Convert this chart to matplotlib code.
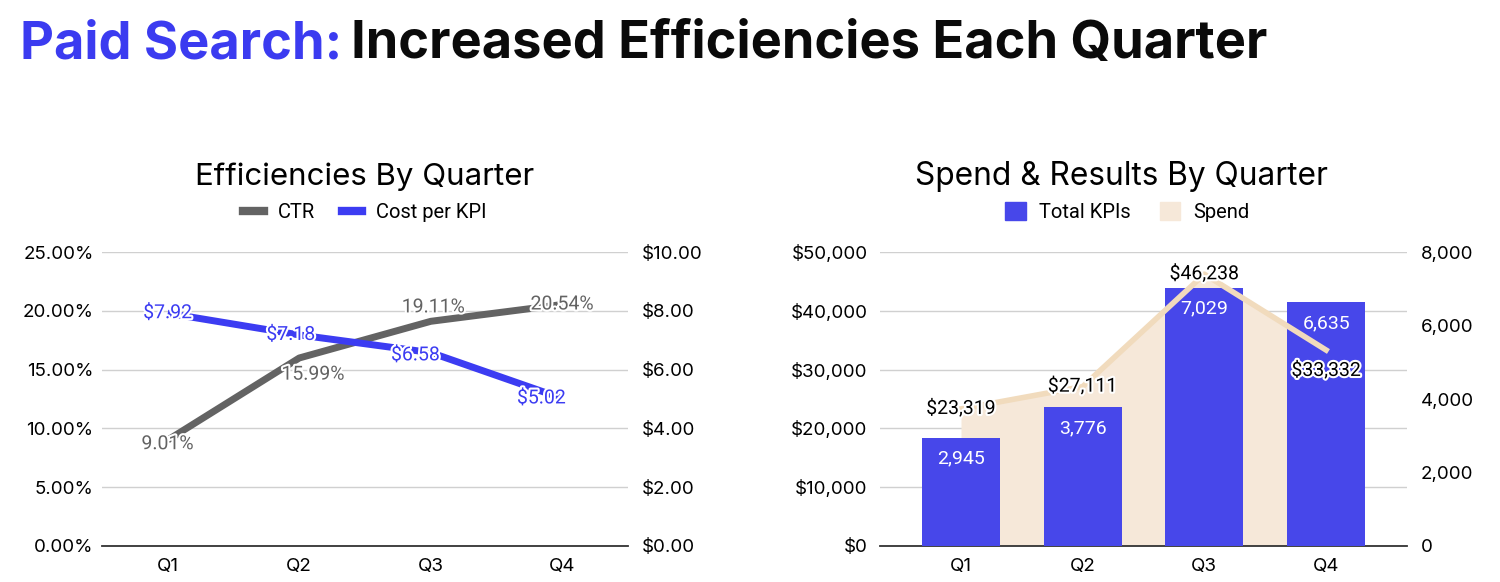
import numpy as np
from matplotlib import pyplot as plt
import matplotlib.patheffects as pe
from matplotlib.lines import Line2D
from matplotlib.patches import Patch

# data
quarters = ['Q1', 'Q2', 'Q3', 'Q4']
ctr = [9.01, 15.99, 19.11, 20.54]          # percent
cost_per_kpi = [7.92, 7.18, 6.58, 5.02]     # dollars
total_kpis = [2945, 3776, 7029, 6635]
spend = [23319, 27111, 46238, 33332]

pct_ticks = [0, 5, 10, 15, 20, 25]
cost_ticks = [0, 2, 4, 6, 8, 10]
spend_ticks = [0, 10000, 20000, 30000, 40000, 50000]
kpi_ticks = [0, 2000, 4000, 6000, 8000]

# colours / fonts
BLUE = '#4747ea'
LINE_BLUE = '#3c3cf2'
GRAY = '#636363'
BEIGE_FILL = '#f6e8d9'
BEIGE_LINE = '#f1dbbd'
GRID = '#d0d0d0'
TITLE_FONT = ['Inter', 'DejaVu Sans']
LABEL_FONT = ['Roboto', 'DejaVu Sans']

halo = [pe.withStroke(linewidth=3, foreground='white')]

fig = plt.figure(figsize=(15, 5.82), dpi=100)

# main title in two colours
t1 = fig.text(0.013, 0.9, 'Paid Search:', fontsize=37.7, fontweight='bold',
              color='#3b3bf0', family=TITLE_FONT, va='baseline')
fig.canvas.draw()
bb = t1.get_window_extent(fig.canvas.get_renderer())
x_end = bb.x1 / fig.bbox.width
fig.text(x_end + 0.006, 0.9, 'Increased Efficiencies Each Quarter', fontsize=37.7,
         fontweight='bold', color='#0a0a0a', family=TITLE_FONT, va='baseline')


def style_axes(ax):
    for s in ['top', 'left', 'right']:
        ax.spines[s].set_visible(False)
    ax.spines['bottom'].set_color('#333333')
    ax.spines['bottom'].set_linewidth(1.3)
    ax.tick_params(length=0, labelsize=13.5)
    for lab in ax.get_xticklabels() + ax.get_yticklabels():
        lab.set_family(TITLE_FONT)


# ---------- left chart ----------
x = np.arange(len(quarters))
ax = fig.add_axes([0.068, 0.0619, 0.3507, 0.505])
ax2 = ax.twinx()
ax.set_xlim(-0.5, 3.5)
ax.set_ylim(0, 25)
ax2.set_ylim(0, 10)
ax.set_yticks(pct_ticks)
ax.set_yticklabels(['%.2f%%' % v for v in pct_ticks])
ax2.set_yticks(cost_ticks)
ax2.set_yticklabels(['$%.2f' % v for v in cost_ticks])
ax.set_xticks(x)
ax.set_xticklabels(quarters)
ax.grid(axis='y', color=GRID, linewidth=1)
ax.set_axisbelow(True)
style_axes(ax)
style_axes(ax2)
ax2.spines['bottom'].set_visible(False)
ax.tick_params(axis='y', pad=6)
ax.tick_params(axis='x', pad=9)
ax2.tick_params(axis='y', pad=10)

ax2.plot(x, ctr, color=GRAY, linewidth=5, transform=ax.transData, solid_capstyle='butt')
ax2.plot(x, cost_per_kpi, color=LINE_BLUE, linewidth=5, solid_capstyle='butt')

ctr_off = [(0, -3), (10, -12), (2, 10), (0, 0)]
for i, v in enumerate(ctr):
    ax2.annotate('%.2f%%' % v, (x[i], v), xycoords=ax.transData,
                 xytext=ctr_off[i], textcoords='offset points', ha='center', va='center',
                 fontsize=14, color=GRAY, family=LABEL_FONT, path_effects=halo)
cost_off = [(0, 0), (-6, 0), (-11, -2), (-15, 0)]
for i, v in enumerate(cost_per_kpi):
    ax2.annotate('$%.2f' % v, (x[i], v), xytext=cost_off[i], textcoords='offset points',
                 ha='center', va='center', fontsize=14, color=LINE_BLUE,
                 family=LABEL_FONT, path_effects=halo)

ax.set_title('Efficiencies By Quarter', fontsize=22.5, family=TITLE_FONT, pad=48)
handles = [Line2D([0], [0], color=GRAY, lw=6), Line2D([0], [0], color=LINE_BLUE, lw=6)]
ax.legend(handles, ['CTR', 'Cost per KPI'], loc='lower center', bbox_to_anchor=(0.5, 1.04),
          ncol=2, frameon=False, prop={'family': LABEL_FONT, 'size': 14.5},
          handlelength=1.0, columnspacing=1.35, handletextpad=0.7)

# ---------- right chart ----------
bx = fig.add_axes([0.5867, 0.0619, 0.3513, 0.505])
bx2 = bx.twinx()
bx.set_xlim(-0.665, 3.665)
bx.set_ylim(0, 50000)
bx2.set_ylim(0, 8000)
bx.set_yticks(spend_ticks)
bx.set_yticklabels(['${:,}'.format(v) for v in spend_ticks])
bx2.set_yticks(kpi_ticks)
bx2.set_yticklabels(['{:,}'.format(v) for v in kpi_ticks])
bx.set_xticks(x)
bx.set_xticklabels(quarters)
bx.grid(axis='y', color=GRID, linewidth=1)
bx.set_axisbelow(True)
style_axes(bx)
style_axes(bx2)
bx2.spines['bottom'].set_visible(False)
bx.tick_params(axis='y', pad=9)
bx.tick_params(axis='x', pad=9)
bx2.tick_params(axis='y', pad=10)

bx.fill_between(x, spend, 0, color=BEIGE_FILL, linewidth=0)
bx2.bar(x, total_kpis, width=0.64, color=BLUE)
bx2.plot(x, spend, color=BEIGE_LINE, linewidth=4, transform=bx.transData)

for i, v in enumerate(total_kpis):
    bx2.annotate('{:,}'.format(v), (x[i], v), xytext=(0, -15), textcoords='offset points',
                 ha='center', va='center', fontsize=14, color='white', family=LABEL_FONT)
spend_off = [(0, 0), (0, 0), (0, 0), (0, -15)]
for i, v in enumerate(spend):
    bx2.annotate('${:,}'.format(v), (x[i], v), xycoords=bx.transData,
                 xytext=spend_off[i], textcoords='offset points', ha='center', va='center',
                 fontsize=14, color='black', family=LABEL_FONT, path_effects=halo)

bx.set_title('Spend & Results By Quarter', fontsize=22.8, family=TITLE_FONT, pad=48, x=0.459)
handles = [Patch(color=BLUE), Patch(color=BEIGE_FILL)]
bx.legend(handles, ['Total KPIs', 'Spend'], loc='lower center', bbox_to_anchor=(0.469, 1.04),
          ncol=2, frameon=False, prop={'family': LABEL_FONT, 'size': 14.5},
          handlelength=1.0, handleheight=1.0, columnspacing=1.45, handletextpad=0.65)

fig.savefig('out.png', dpi=100)
